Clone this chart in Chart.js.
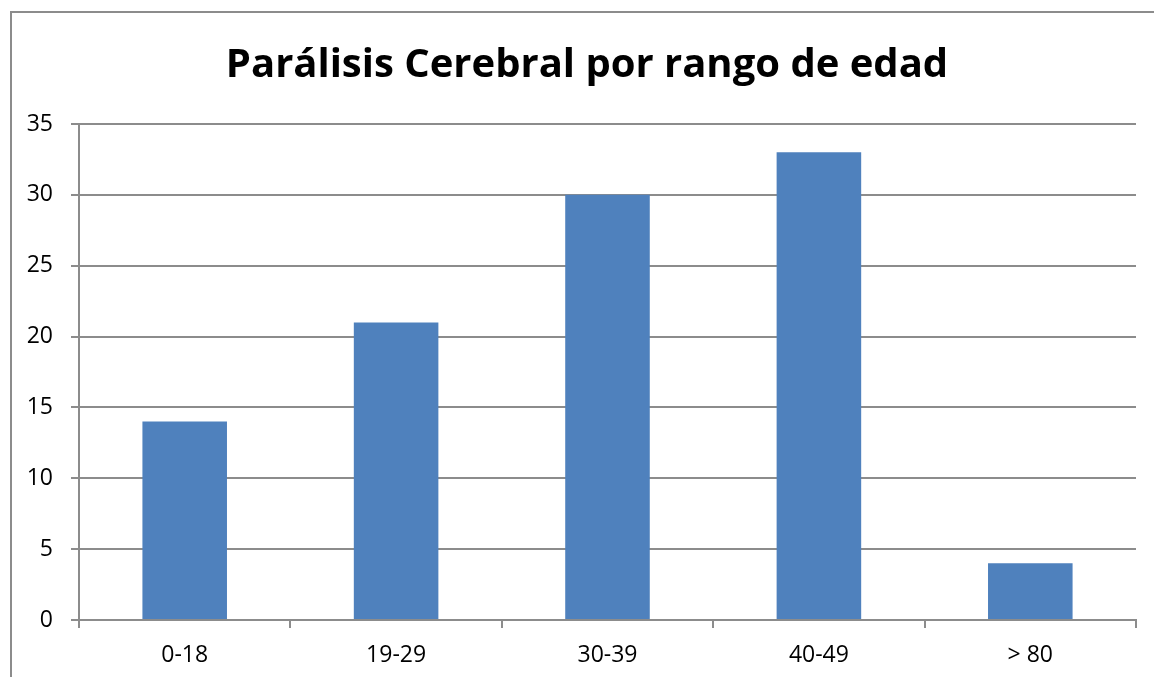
<!DOCTYPE html>
<html>
<head>
<meta charset="utf-8">
<script src="https://cdn.jsdelivr.net/npm/chart.js"></script>
<style>
  html, body { margin: 0; padding: 0; background: #fff; }
  #wrap { width: 1154px; height: 677px; }
</style>
</head>
<body>
<div id="wrap"><canvas id="grafico"></canvas></div>
<script>
const rangos = ['0-18', '19-29', '30-39', '40-49', '> 80'];
const casos = [14, 21, 30, 33, 4];
const marcasY = [0, 5, 10, 15, 20, 25, 30, 35];

const gris = '#8c8c8c';

// marco exterior del grafico (se corta a la derecha y abajo)
const marco = {
  id: 'marco',
  afterLayout(chart) {
    // centrar el titulo un poco a la derecha, como en el original
    if (chart.titleBlock) {
      chart.titleBlock.left = 38;
      chart.titleBlock.right = chart.chartArea.right;
    }
  },
  beforeDraw(chart) {
    const c = chart.ctx;
    c.save();
    c.fillStyle = '#fff';
    c.fillRect(0, 0, chart.width, chart.height);
    c.strokeStyle = gris;
    c.lineWidth = 2;
    c.strokeRect(11, 12, chart.width + 20, chart.height + 20);
    c.restore();
  }
};

const ctx = document.getElementById('grafico');
new Chart(ctx, {
  type: 'bar',
  data: {
    labels: rangos,
    datasets: [{
      data: casos,
      backgroundColor: '#4f81bd',
      borderWidth: 0,
      categoryPercentage: 1,
      barPercentage: 0.4
    }]
  },
  options: {
    responsive: true,
    maintainAspectRatio: false,
    animation: false,
    layout: { padding: { left: 12, right: 18, top: 0, bottom: 0 } },
    scales: {
      y: {
        min: 0,
        max: 35,
        afterFit(s) { s.width = 67; },
        afterBuildTicks(s) { s.ticks = marcasY.map(v => ({ value: v })); },
        border: { color: gris, width: 2 },
        grid: { color: gris, lineWidth: 2, tickLength: 8 },
        ticks: {
          color: '#000',
          padding: 18,
          font: { family: 'Open Sans', size: 23 }
        }
      },
      x: {
        afterFit(s) { s.height = 57; },
        border: { color: gris, width: 2 },
        grid: { color: gris, lineWidth: 2, tickLength: 8, drawOnChartArea: false },
        ticks: {
          color: '#000',
          padding: 14,
          maxRotation: 0,
          font: { family: 'Open Sans', size: 23 }
        }
      }
    },
    plugins: {
      legend: { display: false },
      tooltip: { enabled: false },
      title: {
        display: true,
        text: 'Parálisis Cerebral por rango de edad',
        color: '#000',
        font: { family: 'Open Sans', size: 40, weight: 'bold' },
        padding: { top: 42, bottom: 34 }
      }
    }
  },
  plugins: [marco]
});
</script>
</body>
</html>
